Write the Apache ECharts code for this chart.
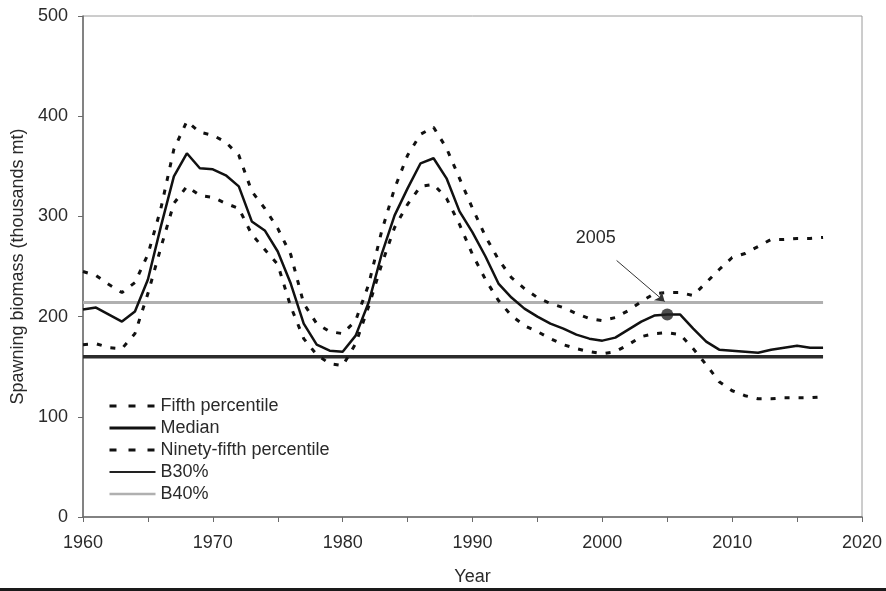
<!DOCTYPE html>
<html>
<head>
<meta charset="utf-8">
<script src="https://cdn.jsdelivr.net/npm/echarts@6/dist/echarts.min.js"></script>
<style>
html,body{margin:0;padding:0;background:#fff;}
#chart{width:886px;height:591px;}
</style>
</head>
<body>
<div id="chart"></div>
<script>
const years = [1960,1961,1962,1963,1964,1965,1966,1967,1968,1969,1970,1971,1972,1973,1974,1975,1976,1977,1978,1979,1980,1981,1982,1983,1984,1985,1986,1987,1988,1989,1990,1991,1992,1993,1994,1995,1996,1997,1998,1999,2000,2001,2002,2003,2004,2005,2006,2007,2008,2009,2010,2011,2012,2013,2014,2015,2016,2017];
const median = [207,209,202,195,205,237,290,340,363,348,347,341,330,295,286,265,233,193,172,166,165,181,214,262,301,328,353,358,338,305,284,260,233,219,208,200,193,188,182,178,176,179,187,195,201,202,202,188,175,167,166,165,164,167,169,171,169,169];
const ninetyFifth = [245,241,232,224,234,262,308,367,395,384,381,374,361,325,308,288,262,213,193,185,183,196,232,285,328,361,382,389,368,338,308,280,257,239,228,219,213,209,203,198,196,199,206,215,223,224,224,221,234,247,259,263,270,277,277,278,278,279];
const fifth = [172,173,169,168,183,223,269,313,330,321,319,313,308,282,267,252,210,178,162,153,151,173,210,252,289,312,330,332,318,292,262,237,216,201,191,185,178,172,168,165,163,165,172,180,183,184,182,168,152,135,126,121,118,118,119,119,119,120];
const b30 = 160;
const b40 = 214;
const refYears = [1960, 2017];
const highlightYear = 2005;
const yTicks = [0,100,200,300,400,500];
const xTicks = [1960,1970,1980,1990,2000,2010,2020];
const names = ['Fifth percentile','Median','Ninety-fifth percentile','B30%','B40%'];

const pair = arr => years.map((y,i)=>[y, arr[i]]);
const font = 'Liberation Sans, Arial, sans-serif';
const textCol = '#2a2a2a';

const chart = echarts.init(document.getElementById('chart'));
const hiIdx = years.indexOf(highlightYear);

const legendLine = [
  {width:3,type:[7,12],color:'#111'},
  {width:3,type:'solid',color:'#111'},
  {width:3,type:[7,12],color:'#111'},
  {width:2,type:'solid',color:'#222'},
  {width:2.5,type:'solid',color:'#b0b0b0'}
];

chart.setOption({
  animation:false,
  backgroundColor:'#fff',
  textStyle:{fontFamily:font},
  grid:{left:83,right:24,top:16,bottom:69,show:true,borderColor:'#9a9a9a',borderWidth:1,backgroundColor:'transparent'},
  legend:{
    orient:'vertical', left:108, top:397, itemWidth:46, itemHeight:12, itemGap:4,
    padding:0,
    data:names.map((n,i)=>({name:n,lineStyle:legendLine[i]})),
    itemStyle:{opacity:0},
    textStyle:{fontSize:18,color:textCol,fontFamily:font}
  },
  xAxis:{
    type:'value', min:1960, max:2020, interval:5,
    name:'Year', nameLocation:'middle', nameGap:51,
    nameTextStyle:{fontSize:18,color:textCol,fontFamily:font},
    axisLine:{show:true,lineStyle:{color:'#6a6a6a',width:1.5}},
    axisTick:{show:true,length:5,lineStyle:{color:'#6a6a6a'}},
    axisLabel:{margin:17,fontSize:18,color:textCol,fontFamily:font,
      formatter:v=> xTicks.indexOf(v)>=0 ? String(v) : ''},
    splitLine:{show:false}
  },
  yAxis:{
    type:'value', min:0, max:500, interval:100,
    name:'Spawning biomass (thousands mt)', nameLocation:'middle', nameGap:54,
    nameTextStyle:{fontSize:18,color:textCol,fontFamily:font},
    axisLine:{show:true,lineStyle:{color:'#6a6a6a',width:1.5}},
    axisTick:{show:true,length:5,lineStyle:{color:'#6a6a6a'}},
    axisLabel:{margin:15,fontSize:18,color:textCol,fontFamily:font,
      formatter:v=> yTicks.indexOf(v)>=0 ? String(v) : ''},
    splitLine:{show:false}
  },
  series:[
    {name:names[0],type:'line',data:pair(fifth),symbol:'none',
     lineStyle:{color:'#111',width:3,type:[5,9]},itemStyle:{color:'#111'},z:3},
    {name:names[1],type:'line',data:pair(median),symbol:'none',
     lineStyle:{color:'#111',width:2.5,type:'solid'},itemStyle:{color:'#111'},z:4,
     markLine:{silent:true,symbol:['none','arrow'],symbolSize:9,
       lineStyle:{color:'#333',width:1,type:'solid'},label:{show:false},
       data:[[{coord:[2001.1,256]},{coord:[2004.8,215]}]]},
     markPoint:{silent:true,symbol:'circle',symbolSize:1,itemStyle:{color:'transparent'},
       label:{show:true,position:'inside',formatter:'2005',fontSize:18,color:textCol,fontFamily:font},
       data:[{coord:[1999.5,278]}]}
    },
    {name:names[2],type:'line',data:pair(ninetyFifth),symbol:'none',
     lineStyle:{color:'#111',width:3,type:[5,9]},itemStyle:{color:'#111'},z:3},
    {name:names[3],type:'line',data:refYears.map(y=>[y,b30]),symbol:'none',
     lineStyle:{color:'#2b2b2b',width:3.5},itemStyle:{color:'#2b2b2b'},z:2},
    {name:names[4],type:'line',data:refYears.map(y=>[y,b40]),symbol:'none',
     lineStyle:{color:'#b0b0b0',width:3},itemStyle:{color:'#b0b0b0'},z:2},
    {name:'2005 point',type:'scatter',data:[[highlightYear, median[hiIdx]]],
     symbol:'circle',symbolSize:12,itemStyle:{color:'#222'},z:6}
  ],
  graphic:[
    {type:'rect',shape:{x:0,y:588,width:886,height:3},style:{fill:'#1a1a1a'},z:100}
  ]
});
</script>
</body>
</html>
